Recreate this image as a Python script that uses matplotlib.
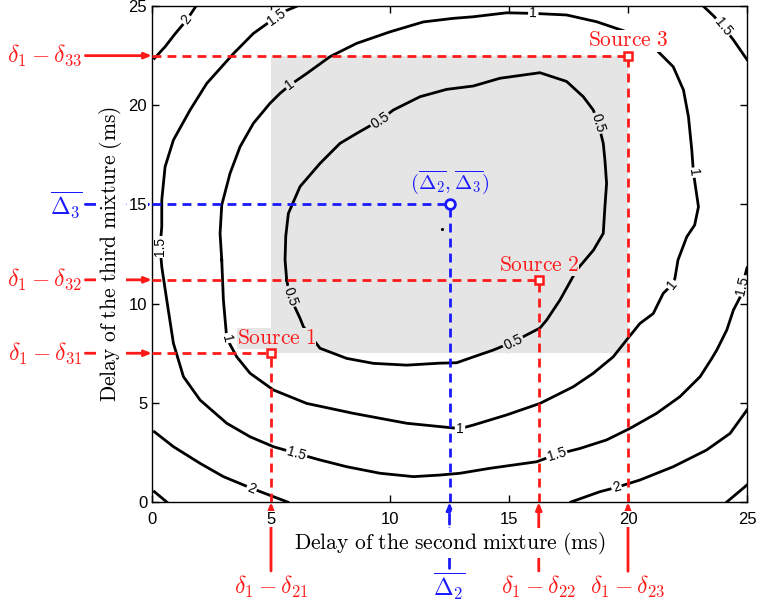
import numpy as np
import matplotlib.pyplot as plt
from matplotlib.patches import Rectangle

plt.rcParams['mathtext.fontset'] = 'cm'
plt.rcParams['font.family'] = ['Liberation Sans', 'DejaVu Sans']

RED = '#ff1a1a'
BLUE = '#1a1aff'
SHADE = '#e5e5e5'

# contour lines, (x, y) in ms
c05 = [(5.66, 11.19), (5.59, 12.2), (5.62, 13.4), (5.73, 14.55), (6.22, 15.9), (7.06, 17.07),
       (7.9, 18.08), (8.6, 18.58), (9.58, 19.25), (10.14, 19.76), (11.26, 20.43), (12.38, 20.8),
       (13.5, 20.97), (14.62, 21.36), (16.3, 21.64), (17.42, 21.2), (18.12, 20.43), (18.54, 19.76),
       (18.75, 19.1), (18.96, 18.08), (19.03, 17.24), (19.1, 16.06), (19.03, 14.88), (18.96, 13.54),
       (18.55, 12.7), (17.84, 11.69), (17.14, 10.18), (16.58, 9.17), (16.3, 8.77), (15.17, 8.07),
       (14.34, 7.66), (13.49, 7.31), (12.8, 7.02), (12.1, 7.0), (10.7, 6.9), (9.3, 6.99),
       (8.18, 7.24), (7.06, 7.75), (6.36, 8.84), (6.22, 9.26), (5.8, 10.35), (5.66, 11.19)]
c10 = [(2.93, 12.2), (2.86, 13.54), (2.93, 14.97), (3.28, 16.57), (3.7, 17.91), (4.26, 19.09),
       (4.96, 20.1), (5.38, 20.6), (5.8, 21.02), (6.5, 21.6), (7.48, 22.45), (8.6, 23.12),
       (10.0, 23.7), (11.4, 24.2), (12.66, 24.38), (13.5, 24.46), (14.9, 24.66), (16.02, 24.63),
       (17.42, 24.55), (18.68, 24.21), (19.52, 23.87), (20.15, 23.62), (21.2, 22.78), (21.9, 21.94),
       (22.33, 20.77), (22.54, 19.42), (22.68, 17.74), (22.75, 16.6), (22.96, 14.88), (22.8, 13.96),
       (22.47, 13.37), (22.1, 12.2), (21.97, 11.27), (21.84, 10.94), (21.48, 10.52), (21.06, 9.5),
       (20.5, 9.0), (19.94, 8.17), (19.38, 7.32), (18.54, 6.49), (17.7, 5.81), (16.3, 4.97),
       (14.9, 4.39), (13.5, 3.88), (12.94, 3.7), (10.7, 3.97), (8.46, 4.47), (6.5, 4.97),
       (5.1, 5.65), (4.12, 6.49), (3.56, 7.32), (3.14, 8.25), (3.0, 10.18), (2.93, 12.2)]
c15a = [(6.1, 25.0), (5.6, 24.75), (5.24, 24.46), (4.26, 23.62), (3.42, 22.6), (2.3, 21.1),
        (1.6, 19.76), (0.9, 18.25), (0.55, 16.9), (0.41, 15.22), (0.41, 13.88), (0.34, 12.87),
        (0.41, 11.86), (0.62, 10.18), (0.9, 8.0), (1.32, 6.32), (2.02, 5.14), (3.14, 3.97),
        (4.12, 3.29), (5.1, 2.79), (6.08, 2.45), (7.06, 2.12), (8.18, 1.78), (9.58, 1.45),
        (10.98, 1.28), (12.1, 1.36), (12.94, 1.45), (14.2, 1.7), (16.16, 2.03), (17.0, 2.4),
        (17.98, 2.7), (19.1, 3.13), (20.08, 3.71), (21.2, 4.47), (22.18, 5.31), (23.03, 6.32),
        (23.5, 7.2), (23.73, 7.66), (24.15, 8.67), (24.43, 9.68), (24.7, 10.3), (24.8, 10.9),
        (25.0, 11.8)]
c15b = [(23.16, 25.0), (23.6, 24.5), (24.0, 23.96), (24.43, 23.29), (25.0, 22.3)]
c20a = [(0.1, 22.36), (0.55, 22.95), (0.97, 23.6), (1.46, 24.3), (1.85, 25.0)]
c20b = [(0.1, 3.54), (0.9, 2.79), (2.02, 1.95), (3.0, 1.28), (4.19, 0.69), (5.1, 0.27), (5.7, 0.0)]
c20c = [(17.6, 0.0), (18.82, 0.52), (19.52, 0.74), (20.5, 1.11), (21.9, 1.78), (23.3, 2.62),
        (24.29, 3.46), (25.0, 4.64)]
c25a = [(0.1, 0.52), (0.62, 0.0)]
c25b = [(24.15, 0.0), (25.0, 0.86)]

# where the level numbers sit on the lines
lab05 = [(9.58, 19.25), (18.75, 19.1), (15.17, 8.07), (5.8, 10.35)]
lab10 = [(5.8, 21.02), (16.02, 24.63), (22.75, 16.6), (21.84, 10.94), (12.94, 3.7), (3.14, 8.25)]
lab15 = [(5.24, 24.46), (0.34, 12.87), (6.08, 2.45), (17.0, 2.4), (24.8, 10.9), (24.0, 23.96)]
lab20 = [(1.46, 24.3), (4.19, 0.69), (19.52, 0.74)]

levels = [('0.5', [c05], lab05), ('1', [c10], lab10),
          ('1.5', [c15a, c15b], lab15), ('2', [c20a, c20b, c20c], lab20)]

# sources and their mean
src_x = [5.0, 16.25, 20.0]
src_y = [7.5, 11.2, 22.5]
src_names = ['Source 1', 'Source 2', 'Source 3']
x_names = [r'$\delta_1-\delta_{21}$', r'$\delta_1-\delta_{22}$', r'$\delta_1-\delta_{23}$']
y_names = [r'$\delta_1-\delta_{31}$', r'$\delta_1-\delta_{32}$', r'$\delta_1-\delta_{33}$']
mean_x, mean_y = 12.5, 15.0
dot_x, dot_y = 12.17, 13.74

fig = plt.figure(figsize=(7.57, 6.05), dpi=100)
ax = fig.add_axes([0.2008, 0.1702, 0.7860, 0.8198])
ax.set_xlim(0, 25)
ax.set_ylim(0, 25)

ax.add_patch(Rectangle((min(src_x), min(src_y)), max(src_x) - min(src_x), max(src_y) - min(src_y),
                       fc=SHADE, ec='none', zorder=0.5))

for txt, curves, labs in levels:
    for c in curves + ([c25a, c25b] if txt == '2' else []):
        a = np.array(c)
        ax.plot(a[:, 0], a[:, 1], color='black', lw=2, zorder=2)
    for lx, ly in labs:
        best = None
        for c in curves:
            a = np.array(c)
            d = np.hypot(a[:, 0] - lx, a[:, 1] - ly)
            i = d.argmin()
            if best is None or d[i] < best[0]:
                best = (d[i], a, i)
        _, a, i = best
        p = ax.transData.transform(a[max(i - 1, 0)])
        q = ax.transData.transform(a[min(i + 1, len(a) - 1)])
        ang = np.degrees(np.arctan2(q[1] - p[1], q[0] - p[0]))
        if ang > 90:
            ang -= 180
        if ang <= -90:
            ang += 180
        inside = min(src_x) < lx < max(src_x) and min(src_y) < ly < max(src_y)
        ax.text(lx, ly, txt, rotation=ang, rotation_mode='anchor', ha='center', va='center',
                fontsize=10, zorder=2.5,
                bbox=dict(fc=SHADE if inside else 'white', ec='none', pad=1))

dash = (3.2, 2.2)
for i in range(3):
    ax.plot([0, src_x[i]], [src_y[i], src_y[i]], color=RED, lw=2, dashes=dash, zorder=4)
    ax.plot([src_x[i], src_x[i]], [0, src_y[i]], color=RED, lw=2, dashes=dash, zorder=4)
ax.plot([0, mean_x], [mean_y, mean_y], color=BLUE, lw=2, dashes=dash, zorder=4)
ax.plot([mean_x, mean_x], [0, mean_y], color=BLUE, lw=2, dashes=dash, zorder=4)

ax.plot(src_x, src_y, 's', ls='none', ms=6, mfc='white', mec=RED, mew=1.8, zorder=5)
ax.plot(mean_x, mean_y, 'o', ms=7, mfc='white', mec=BLUE, mew=2, zorder=5)
ax.plot(dot_x, dot_y, 'k.', ms=2.5, zorder=3)

for i in range(3):
    name = r'$\mathrm{' + src_names[i].replace(' ', r'\ ') + '}$'
    inside = src_y[i] < max(src_y)
    shift = 4 if i == 0 else 0
    ax.annotate(name, (src_x[i], src_y[i]), xytext=(shift, 3), textcoords='offset points',
                ha='center', va='bottom', color=RED, fontsize=15.5, zorder=4.5,
                bbox=dict(fc=SHADE if inside else 'white', ec='none', pad=0.2))
ax.annotate(r'$(\overline{\Delta_2},\overline{\Delta_3})$', (mean_x, mean_y), xytext=(0, 6),
            textcoords='offset points', ha='center', va='bottom', color=BLUE, fontsize=15, zorder=4.5)

# labels outside the axes, pointing at the axes
head = '-|>,head_length=0.25,head_width=0.1'
for i in range(3):
    ax.annotate(y_names[i], xy=(0, src_y[i]), xytext=(-50, 0), textcoords='offset points',
                ha='right', va='center', color=RED, fontsize=17, annotation_clip=False, zorder=1,
                arrowprops=dict(arrowstyle=head, color=RED, lw=2, shrinkA=0, shrinkB=0))
    ax.annotate(x_names[i], xy=(src_x[i], 0), xytext=(0, -61), textcoords='offset points',
                ha='center', va='center', color=RED, fontsize=17, annotation_clip=False, zorder=1,
                arrowprops=dict(arrowstyle=head, color=RED, lw=2, shrinkA=0, shrinkB=0))
ax.annotate(r'$\overline{\Delta_3}$', xy=(0, mean_y), xytext=(-50, 0), textcoords='offset points',
            ha='right', va='center', color=BLUE, fontsize=17, annotation_clip=False, zorder=1,
            arrowprops=dict(arrowstyle=head, color=BLUE, lw=2, ls='--', shrinkA=0, shrinkB=0))
ax.annotate(r'$\overline{\Delta_2}$', xy=(mean_x, 0), xytext=(0, -61), textcoords='offset points',
            ha='center', va='center', color=BLUE, fontsize=17, annotation_clip=False, zorder=1,
            arrowprops=dict(arrowstyle=head, color=BLUE, lw=2, ls='--', shrinkA=0, shrinkB=0))

ax.set_xticks([0, 5, 10, 15, 20, 25])
ax.set_yticks([0, 5, 10, 15, 20, 25])
ax.tick_params(direction='in', top=True, right=True, length=5, width=1, labelsize=12)
ax.tick_params(axis='x', pad=7)
for t in ax.get_xticklabels() + ax.get_yticklabels():
    t.set_bbox(dict(fc='white', ec='none', pad=0.5))
for s in ax.spines.values():
    s.set_linewidth(1)

ax.set_xlabel(r'$\mathrm{Delay\ of\ the\ second\ mixture\ (ms)}$', fontsize=15.5, labelpad=2)
ax.set_ylabel(r'$\mathrm{Delay\ of\ the\ third\ mixture\ (ms)}$', fontsize=15.5, labelpad=3)
ax.xaxis.label.set_bbox(dict(fc='white', ec='none', pad=1))
ax.yaxis.label.set_bbox(dict(fc='white', ec='none', pad=1))

fig.savefig('out.png', dpi=100)
